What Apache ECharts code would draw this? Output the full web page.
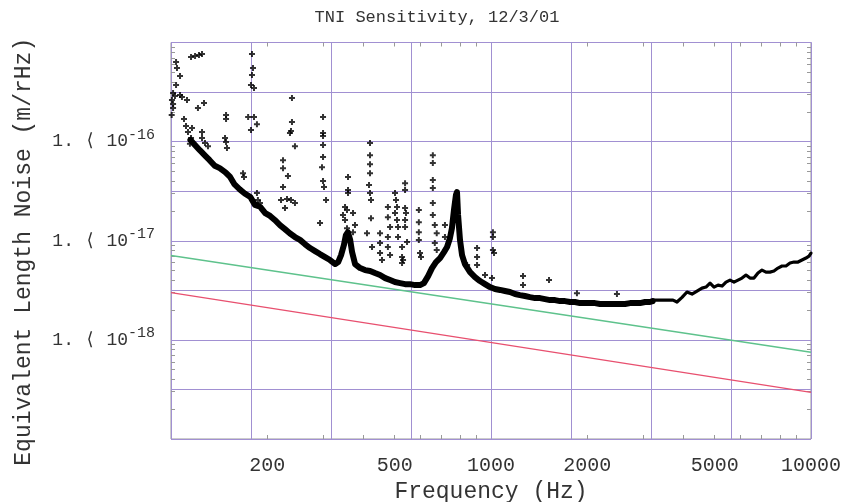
<!DOCTYPE html>
<html><head><meta charset="utf-8">
<script src="https://cdn.jsdelivr.net/npm/echarts@6/dist/echarts.min.js"></script>
<style>html,body{margin:0;padding:0;background:#fff}#c{width:847px;height:502px}</style>
</head><body><div id="c"></div>
<script>
const titleText = 'TNI Sensitivity, 12/3/01';
const xName = 'Frequency (Hz)';
const yName = 'Equivalent Length Noise (m/rHz)';
const xLabelValues = [200, 500, 1000, 2000, 5000, 10000];
const xMinorTicks = [200, 300, 400, 500, 600, 700, 800, 900, 2000, 3000, 4000, 5000, 6000, 7000, 8000, 9000];
const yLabelValues = [1e-18, 1e-17, 1e-16];
const yGridValues = [1e-19, 3.162e-19, 1e-18, 3.162e-18, 1e-17, 3.162e-17, 1e-16, 3.162e-16, 1e-15];
const yMinorTicks = [2e-19,3e-19,4e-19,5e-19,6e-19,7e-19,8e-19,9e-19,2e-18,3e-18,4e-18,5e-18,6e-18,7e-18,8e-18,9e-18,2e-17,3e-17,4e-17,5e-17,6e-17,7e-17,8e-17,9e-17,2e-16,3e-16,4e-16,5e-16,6e-16,7e-16,8e-16,9e-16];
// vertical grid every quarter decade: log axis with base 10^(1/4)
const xGridBase = 1.778279;

// reference lines
const greenFreq = [100, 10000];
const greenNoise = [7.1e-18, 7.5e-19];
const redFreq = [100, 10000];
const redNoise = [3.0e-18, 2.95e-19];

// main noise band (dense measured points, low/mid frequencies)
const bandFreq = [115,119,123,128,132,137,142,148,153,158,164,170,177,183,190,197,204,211,219,227,235,244,253,262,272,282,292,303,314,326,333,340,347,352,357,363,368,376,390,404,419,434,450,467,484,501,520,539,558,579,600,617,636,654,673,693,713,729,744,755,766,777,783,789,800,812,829,860,891,924,958,993,1029,1067,1106,1146,1189,1232,1277,1324,1373,1423,1475,1529,1585,1643,1703,1766,1830,1897,1967,2039,2113,2191,2271,2354,2440,2530,2623,2719,2818,2922,3029,3140,3199];
const bandNoise = [104e-18,92e-18,82e-18,72e-18,65e-18,57e-18,54e-18,49e-18,44e-18,37e-18,33e-18,30e-18,27.6e-18,23e-18,22e-18,19e-18,17.8e-18,16.2e-18,14.4e-18,13.1e-18,11.9e-18,10.9e-18,10.2e-18,9.26e-18,8.44e-18,7.87e-18,7.34e-18,6.85e-18,6.39e-18,5.82e-18,6.10e-18,7.17e-18,9.05e-18,11.4e-18,12.2e-18,10.2e-18,7.69e-18,5.82e-18,5.30e-18,5.06e-18,4.95e-18,4.72e-18,4.51e-18,4.20e-18,4.01e-18,3.83e-18,3.74e-18,3.65e-18,3.65e-18,3.57e-18,3.57e-18,3.74e-18,4.40e-18,5.30e-18,6.10e-18,6.69e-18,7.69e-18,8.64e-18,10.6e-18,13.4e-18,20.4e-18,28.9e-18,31.0e-18,18.2e-18,10.2e-18,7.17e-18,5.82e-18,4.83e-18,4.30e-18,3.92e-18,3.65e-18,3.41e-18,3.26e-18,3.19e-18,3.11e-18,3.04e-18,2.90e-18,2.83e-18,2.77e-18,2.70e-18,2.64e-18,2.64e-18,2.58e-18,2.52e-18,2.52e-18,2.46e-18,2.46e-18,2.41e-18,2.41e-18,2.35e-18,2.35e-18,2.35e-18,2.35e-18,2.30e-18,2.30e-18,2.30e-18,2.30e-18,2.30e-18,2.30e-18,2.35e-18,2.35e-18,2.35e-18,2.41e-18,2.41e-18,2.46e-18];

// high-frequency tail
const tailFreq = [3199,3374,3548,3705,3813,3953,4097,4248,4404,4564,4697,4836,4977,5122,5272,5425,5584,5746,5914,6087,6264,6447,6635,6828,7028,7233,7444,7661,7885,8117,8353,8597,8849,9107,9373,9647,9857,10000];
const tailNoise = [2.52e-18,2.52e-18,2.52e-18,2.52e-18,2.41e-18,2.68e-18,3.04e-18,2.90e-18,3.11e-18,3.33e-18,3.41e-18,3.74e-18,3.41e-18,3.57e-18,3.49e-18,3.83e-18,4.01e-18,3.83e-18,4.01e-18,4.20e-18,4.51e-18,4.20e-18,4.20e-18,4.72e-18,5.06e-18,4.83e-18,4.83e-18,4.95e-18,5.30e-18,5.56e-18,5.56e-18,5.96e-18,6.10e-18,6.10e-18,6.39e-18,6.69e-18,7.00e-18,7.50e-18];

// scattered points / spectral lines
const spikeFreq = [103.7,104.4,106.7,103.7,115.5,118.9,122.3,125,101.5,102.9,106.7,108.2,100.7,101.5,101.5,100.5,112.2,121.4,126.8,109.8,111.4,113,115.5,114.6,116.3,125,125,127.7,130.5,148.6,148.6,147.5,148.6,149.6,174.2,181.7,185.6,177.8,179.1,180.4,179.1,177.8,181.7,238.8,238.8,237.1,235.4,244,298.6,298.6,298.6,298.6,298.6,296.4,298.6,300.7,305.1,292.2,223.9,223.9,232,223.9,220.7,230.4,237.1,244,227.1,167.9,169.1,185.6,186.9,189.7,357.4,357.4,357.4,349.8,354.8,344.7,349.8,354.8,370.5,375.8,370.5,418.7,418.7,418.7,418.7,415.7,418.7,421.7,421.7,409.7,424.8,450,450,450,456.4,476.2,476.2,483.6,476.2,476.2,483.6,501.2,504.8,508.5,501.2,508.5,512.2,512.2,527.2,527.2,527.2,538.8,538.8,538.8,542.5,538.8,538.8,546.5,531.1,595,595,595,595,600,604.3,658,658,658,658,658,658,667.4,676.7,667.4,676.7,718,718,842,904.5,904.5,904.5,1014,1014,1014,1022,957.8,1007,1259,1259,1518,1856,2475];
const spikeNoise = [636e-18,553e-18,459e-18,373e-18,714e-18,731e-18,748e-18,766e-18,309e-18,288e-18,295e-18,282e-18,263e-18,240e-18,218e-18,186e-18,263e-18,218e-18,245e-18,169e-18,144e-18,125e-18,109e-18,95e-18,137e-18,125e-18,109e-18,96.8e-18,90e-18,186e-18,169e-18,109e-18,99e-18,86e-18,177e-18,177e-18,150e-18,131e-18,766e-18,553e-18,470e-18,373e-18,347e-18,275e-18,158e-18,128e-18,122e-18,90e-18,177e-18,122e-18,114e-18,92.4e-18,70e-18,55e-18,40e-18,34.8e-18,25.7e-18,15.1e-18,65e-18,54e-18,45e-18,34.8e-18,25.7e-18,26.3e-18,25.7e-18,24e-18,21.4e-18,48e-18,44e-18,30.3e-18,25.7e-18,24e-18,44e-18,32.5e-18,30.3e-18,21.9e-18,20.4e-18,18.2e-18,16.2e-18,13.4e-18,19e-18,14.4e-18,12.2e-18,96.8e-18,73e-18,59e-18,48e-18,36.5e-18,30.3e-18,25.7e-18,16.9e-18,11.9e-18,8.64e-18,11.9e-18,9.48e-18,7.51e-18,6.39e-18,21.9e-18,17.3e-18,13.8e-18,10.9e-18,8.64e-18,7.17e-18,30.3e-18,25.7e-18,21.9e-18,19e-18,16.2e-18,13.8e-18,10.9e-18,8.64e-18,6.85e-18,5.96e-18,38e-18,32.5e-18,21.4e-18,19e-18,16.2e-18,13.8e-18,9.70e-18,6.39e-18,20.4e-18,15.4e-18,12.2e-18,10.2e-18,7.51e-18,6.85e-18,73e-18,61e-18,41e-18,34e-18,24e-18,18.2e-18,14.4e-18,11.9e-18,9.48e-18,8.06e-18,14.4e-18,10.9e-18,5.69e-18,8.44e-18,6.85e-18,5.69e-18,12.2e-18,10.9e-18,8.06e-18,7.51e-18,4.51e-18,4.20e-18,4.40e-18,3.57e-18,4.01e-18,2.96e-18,2.90e-18];

const zip = (a, b) => a.map((v, i) => [v, b[i]]);
const FONT = '"Liberation Mono", "DejaVu Sans Mono", monospace';
const TXT = '#333333';
const GRID = '#a190d2';
const FRAME = '#999999';
const PLUS = 'path://M2,0H4V2H6V4H4V6H2V4H0V2H2Z';

const chart = echarts.init(document.getElementById('c'), null, {renderer: 'canvas'});

function xFmt(v) { return String(v < 6 ? Math.round(Math.pow(10, v)) : Math.round(v)); }
function yFmt(v) {
  const e = (v > 0 && v < 1) ? Math.round(Math.log10(v)) : Math.round(v);
  return '{a|1. \u27E8 10}{s|' + e + '}';
}

const option = {
  animation: false,
  backgroundColor: '#ffffff',
  graphic: [{
    type: 'text', x: 437, y: 17,
    style: {text: titleText, textAlign: 'center', textVerticalAlign: 'middle',
            font: '17px ' + FONT, fill: TXT}
  }],
  grid: {left: 171, right: 36, top: 42.5, bottom: 63, show: true,
         borderColor: FRAME, borderWidth: 1, backgroundColor: 'transparent', outerBoundsMode: 'none'},
  xAxis: [
    {type: 'log', logBase: xGridBase, min: 100, max: 10000, position: 'bottom', splitNumber: 8,
     axisLine: {show: false}, axisTick: {show: false},
     axisLabel: {show: false}, splitLine: {show: true, lineStyle: {color: GRID, width: 1}}},
    {type: 'log', logBase: 10, min: 100, max: 10000, position: 'bottom',
     axisLine: {show: false},
     axisTick: {show: true, inside: true, length: 4, customValues: xMinorTicks, lineStyle: {color: FRAME}},
     axisLabel: {customValues: xLabelValues, formatter: xFmt, fontFamily: FONT, fontSize: 20, color: TXT, margin: 17},
     splitLine: {show: false},
     name: xName, nameLocation: 'middle', nameGap: 40,
     nameTextStyle: {fontFamily: FONT, fontSize: 23, color: TXT}},
    {type: 'log', logBase: 10, min: 100, max: 10000, position: 'top',
     axisLine: {show: false},
     axisTick: {show: true, inside: true, length: 4, customValues: xMinorTicks, lineStyle: {color: FRAME}},
     axisLabel: {show: false}, splitLine: {show: false}}
  ],
  yAxis: [
    {type: 'log', logBase: 10, min: 1e-19, max: 1e-15, position: 'left',
     axisLine: {show: false}, axisTick: {show: false, customValues: yGridValues},
     axisLabel: {show: false}, splitLine: {show: true, lineStyle: {color: GRID, width: 1}}},
    {type: 'log', logBase: 10, min: 1e-19, max: 1e-15, position: 'left',
     axisLine: {show: false},
     axisTick: {show: true, inside: true, length: 4, customValues: yMinorTicks, lineStyle: {color: FRAME}},
     axisLabel: {customValues: yLabelValues, formatter: yFmt, margin: 16,
       rich: {
         a: {fontFamily: FONT, fontSize: 18, color: TXT, lineHeight: 28, verticalAlign: 'middle'},
         s: {fontFamily: FONT, fontSize: 15, color: TXT, lineHeight: 28, verticalAlign: 'top'}
       }},
     splitLine: {show: false},
     name: yName, nameLocation: 'middle', nameGap: 136,
     nameTextStyle: {fontFamily: FONT, fontSize: 23, color: TXT, padding: [0, 22, 0, 0]}},
    {type: 'log', logBase: 10, min: 1e-19, max: 1e-15, position: 'right',
     axisLine: {show: false},
     axisTick: {show: true, inside: true, length: 4, customValues: yMinorTicks, lineStyle: {color: FRAME}},
     axisLabel: {show: false}, splitLine: {show: false}}
  ],
  series: [
    {type: 'line', data: zip(greenFreq, greenNoise), xAxisIndex: 0, yAxisIndex: 0,
     showSymbol: false, symbol: 'none', lineStyle: {color: '#5ec28c', width: 1.4}, z: 2},
    {type: 'line', data: zip(redFreq, redNoise), xAxisIndex: 0, yAxisIndex: 0,
     showSymbol: false, symbol: 'none', lineStyle: {color: '#e8506f', width: 1.4}, z: 2},
    {type: 'line', data: zip(bandFreq, bandNoise), xAxisIndex: 0, yAxisIndex: 0,
     showSymbol: false, symbol: 'none', lineStyle: {color: '#000', width: 6, join: 'round', cap: 'round'}, z: 3},
    {type: 'line', data: zip(tailFreq, tailNoise), xAxisIndex: 0, yAxisIndex: 0,
     showSymbol: false, symbol: 'none', lineStyle: {color: '#000', width: 3.2, join: 'round', cap: 'round'}, z: 3},
    {type: 'scatter', data: zip(spikeFreq, spikeNoise), xAxisIndex: 0, yAxisIndex: 0,
     symbol: PLUS, symbolSize: 6, itemStyle: {color: '#000'}, z: 4}
  ]
};
chart.setOption(option);
</script>
</body></html>
